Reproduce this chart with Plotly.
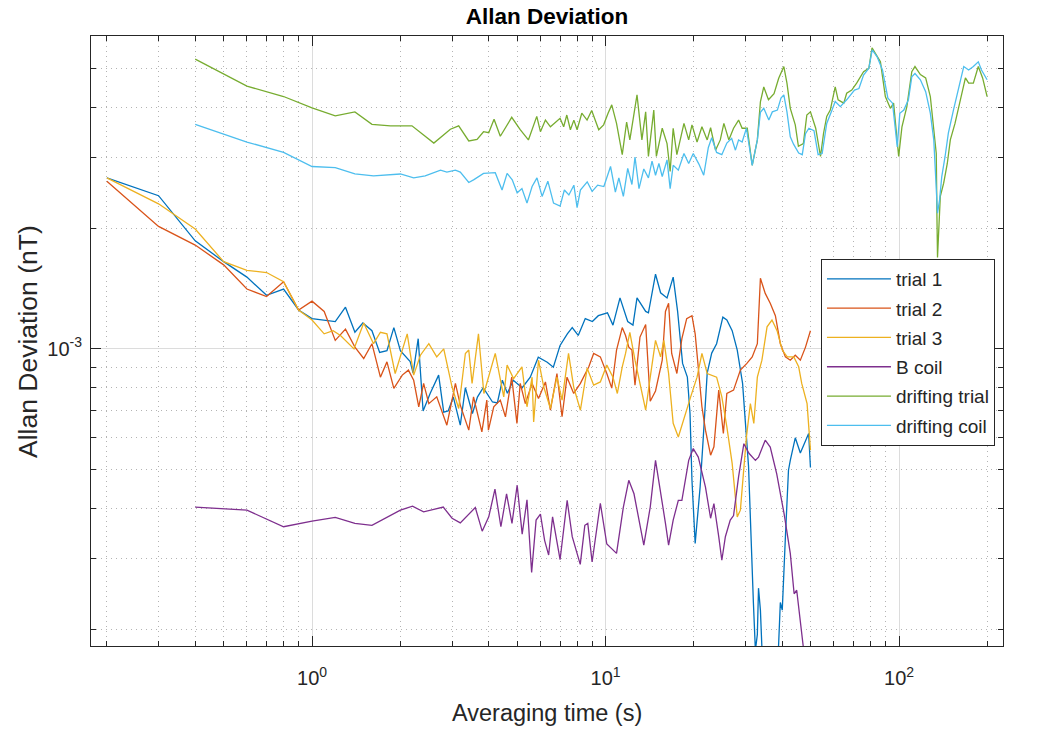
import numpy as np
import plotly.graph_objects as go

# ---- data (averaging time tau in s, Allan deviation in units of 1e-3 nT) ----
SCALE = 1e-3

tau_trial1 = [0.2,0.3,0.4,0.5,0.6,0.7,0.8,0.9,1.0,1.2,1.3,1.4,1.49,1.6,1.7,1.8,1.9,2.0,2.16,2.21,2.30,2.39,2.53,2.70,2.81,2.91,3.03,3.20,3.33,3.52,3.66,3.83,4.12,4.28,4.45,4.63,4.85,5.2,5.54,5.9,6.33,6.64,7.0,7.41,7.7,8.07,8.53,9.02,9.45,10.15,10.6,11.2,11.9,12.4,12.8,13.7,14.0,14.8,15.4,16.2,17.0,17.6,18.3,19.0,19.4,19.7,20.2,21.0,21.5,22.2,23.0,23.9,25.1,25.9,27.0,28.1,29.3,29.95,30.7,31.9,32.4,32.9,33.2,33.7,34.2,36.4,38.8,39.4,40.0,41.0,42.0,42.6,44.3,46.1,48.0,49.2,49.9]
adev_trial1 = [2.67,2.41,1.86,1.65,1.51,1.36,1.41,1.25,1.19,1.17,1.27,1.10,1.16,1.11,0.98,0.99,1.13,0.99,0.93,0.87,1.06,0.70,0.776,0.86,0.695,0.70,0.758,0.645,0.80,0.69,0.758,0.80,0.737,0.733,0.835,0.775,0.835,0.80,0.85,0.953,0.926,0.90,1.02,1.09,1.13,1.08,1.19,1.17,1.21,1.23,1.146,1.34,1.17,1.146,1.34,1.24,1.23,1.535,1.38,1.34,1.51,1.24,0.92,0.85,0.69,0.47,0.327,0.452,0.592,0.87,0.976,1.03,1.2,1.18,1.11,0.993,0.82,0.664,0.51,0.232,0.177,0.194,0.253,0.223,0.17,0.15,0.177,0.233,0.223,0.34,0.498,0.527,0.6,0.55,0.592,0.615,0.506]

tau_trial2 = [0.2,0.3,0.4,0.5,0.6,0.7,0.8,0.9,1.0,1.1,1.2,1.3,1.40,1.50,1.60,1.71,1.80,1.90,2.03,2.13,2.22,2.31,2.40,2.50,2.66,2.88,3.08,3.20,3.42,3.55,3.79,3.94,3.99,4.16,4.38,4.56,4.79,4.99,5.12,5.33,5.62,5.91,6.24,6.49,6.83,7.11,7.39,7.79,8.21,8.77,9.11,9.6,10.1,10.5,10.9,11.4,11.7,12.0,12.3,12.6,13.1,13.7,14.2,14.8,15.6,16.0,16.4,16.8,17.5,18.2,18.9,19.7,20.2,20.8,21.3,21.9,22.8,23.4,24.3,25.2,25.9,27.3,28.8,30.3,31.6,32.9,33.7,35.0,36.4,37.9,39.4,41.0,42.6,44.3,46.1,48.0,49.9]
adev_trial2 = [2.62,2.02,1.815,1.62,1.41,1.35,1.47,1.25,1.315,1.24,1.05,1.12,1.01,0.946,1.03,0.85,0.928,0.797,0.86,0.885,0.835,0.717,0.82,0.73,0.759,0.645,0.82,0.724,0.627,0.759,0.621,0.745,0.627,0.717,0.745,0.677,0.85,0.652,0.82,0.73,0.82,0.752,0.827,0.703,0.868,0.677,0.85,0.774,0.82,0.902,0.974,0.955,0.868,0.798,0.993,1.13,1.08,1.01,0.993,0.812,1.07,1.15,0.74,0.785,0.937,1.24,1.30,0.974,0.868,1.06,1.19,1.21,1.09,0.868,0.717,0.627,0.543,0.57,0.789,0.615,0.774,0.789,0.885,0.92,0.955,1.03,1.50,1.375,1.30,1.21,1.03,0.955,0.937,0.964,0.937,1.01,1.11]

tau_trial3 = [0.2,0.3,0.4,0.5,0.6,0.7,0.8,0.9,1.0,1.1,1.18,1.25,1.39,1.50,1.62,1.71,1.80,1.92,2.11,2.22,2.34,2.50,2.66,2.81,3.0,3.16,3.33,3.42,3.51,3.69,3.85,4.21,4.50,4.62,4.86,5.19,5.4,5.62,5.69,5.91,6.16,6.49,6.83,7.11,7.48,7.79,8.21,8.66,9.11,9.6,10.1,10.6,10.97,11.4,11.7,12.1,12.6,13.1,13.7,14.2,14.8,15.4,15.8,16.4,17.0,17.7,18.4,19.5,20.5,21.3,22.2,23.0,23.9,24.9,25.9,27.0,28.1,28.8,29.6,30.2,31.15,32.0,32.9,34.1,35.5,36.9,38.4,40.0,41.6,43.8,45.5,46.6,48.6,49.9]
adev_trial3 = [2.67,2.30,1.99,1.65,1.57,1.55,1.47,1.25,1.18,1.09,1.11,1.08,1.0,1.16,1.03,1.10,1.09,0.868,1.09,0.86,0.964,1.03,0.955,1.0,0.803,0.71,0.974,0.993,0.82,1.09,0.774,0.974,0.759,0.911,0.843,0.902,0.717,0.85,0.657,0.937,0.803,0.71,0.85,0.745,0.974,0.803,0.703,0.895,0.812,0.827,0.911,0.85,0.774,0.902,0.974,1.10,0.937,0.82,0.703,0.85,1.05,0.955,1.05,0.868,0.652,0.603,0.664,0.759,0.85,0.974,0.868,0.86,0.85,0.759,0.639,0.518,0.381,0.396,0.498,0.603,0.73,0.652,0.85,0.937,1.135,1.18,1.11,0.993,0.955,0.955,0.902,0.82,0.73,0.559]

tau_bcoil = [0.4,0.6,0.8,1.0,1.2,1.4,1.6,2.0,2.2,2.4,2.8,3.0,3.2,3.6,3.8,4.0,4.2,4.4,4.6,4.8,5.0,5.2,5.4,5.6,5.8,6.0,6.2,6.4,6.6,7.0,7.4,7.7,8.2,8.5,8.7,9.0,9.6,10.1,10.9,11.5,12.0,12.5,13.5,14.2,14.8,15.4,16.0,16.4,17.0,17.7,18.2,19.2,19.9,20.7,21.9,22.8,23.4,24.3,24.9,25.6,26.6,27.3,28.4,29.6,30.8,32.4,33.2,35.0,36.4,38.3,40.6,42.6,43.9,44.8,46.1,47.2,49.9]
adev_bcoil = [0.403,0.396,0.36,0.372,0.38,0.367,0.363,0.396,0.405,0.392,0.403,0.378,0.368,0.402,0.351,0.381,0.447,0.36,0.435,0.367,0.457,0.345,0.42,0.277,0.374,0.387,0.333,0.306,0.381,0.298,0.419,0.34,0.29,0.363,0.367,0.294,0.412,0.326,0.309,0.403,0.47,0.435,0.324,0.403,0.527,0.444,0.367,0.324,0.374,0.419,0.419,0.527,0.564,0.537,0.452,0.378,0.411,0.34,0.297,0.34,0.374,0.384,0.48,0.58,0.549,0.527,0.537,0.592,0.569,0.488,0.387,0.309,0.245,0.25,0.21,0.18,0.15]

tau_dtrial = [0.4,0.6,0.8,1.0,1.2,1.4,1.6,1.85,2.19,2.6,2.96,3.16,3.42,3.65,3.84,4.0,4.17,4.38,4.79,5.12,5.46,5.83,6.0,6.24,6.49,7.0,7.2,7.38,7.59,7.8,8.0,8.3,8.65,8.97,9.48,9.85,10.2,10.5,10.9,11.4,11.8,12.1,12.8,13.3,13.7,14.0,14.6,14.9,15.6,16.2,16.6,17.0,17.5,18.5,19.2,19.7,20.5,21.3,22.2,22.8,23.7,24.6,25.3,26.3,27.3,28.4,29.2,30.4,31.6,32.9,33.7,34.6,35.9,37.5,38.9,40.5,41.5,42.6,44.3,45.4,47.2,48.5,49.9,52.0,54.0,55.3,56.7,58.3,60.6,62.0,64.8,66.3,69.0,71.7,75.7,78.9,80.9,83.1,86.4,89.8,93.4,95.8,99.7,102.3,106.3,110.5,113.3,118.2,123.2,127.8,133.9,134.6,135.2,138.2,141.9,146,149.5,155.1,161.7,168.3,172.6,179.1,186.2,192.6,199.5]
adev_dtrial = [5.28,4.52,4.26,3.99,3.81,3.9,3.63,3.6,3.6,3.26,3.53,3.6,3.30,3.33,3.48,3.46,3.74,3.39,3.78,3.52,3.32,3.80,3.48,3.72,3.58,3.76,3.58,3.83,3.52,3.72,3.52,3.87,3.72,3.93,3.52,3.62,3.87,4.06,3.65,3.05,3.68,3.32,4.30,3.32,3.9,3.02,3.94,3.02,3.55,3.25,2.77,3.55,3.05,3.65,3.32,3.62,3.28,3.58,3.32,3.56,3.13,3.32,3.65,3.32,3.55,3.72,3.55,3.55,2.87,3.32,4.13,4.5,4.18,4.33,4.73,5.06,4.6,3.98,3.62,3.2,3.25,3.83,3.9,3.55,3.02,3.45,3.8,3.94,4.5,4.18,4.1,4.34,4.42,4.6,4.91,5.01,5.63,5.46,5.2,4.26,3.98,4.1,3.02,3.58,4.02,4.91,5.06,4.83,4.74,4.26,3.07,2.14,1.69,2.4,2.59,2.9,3.32,3.65,4.18,4.74,4.6,4.6,5.06,4.74,4.26]

tau_dcoil = [0.4,0.6,0.8,1.0,1.2,1.4,1.62,2.0,2.22,2.43,2.74,2.88,3.08,3.2,3.42,3.55,3.84,4.21,4.44,4.62,4.81,5.0,5.19,5.4,5.62,5.84,6.08,6.36,6.65,7.0,7.24,7.5,7.8,8.0,8.21,8.66,9.0,9.4,9.87,10.2,10.4,10.8,11.1,11.5,11.9,12.3,12.6,13.0,13.5,14.0,14.4,14.8,15.2,15.6,16.2,16.6,17.0,17.7,18.5,19.2,19.9,20.8,21.6,22.4,23.0,23.9,24.9,25.9,26.9,27.7,28.4,29.2,30.2,31.6,32.9,33.7,34.6,36.0,37.0,38.5,39.6,40.5,41.5,42.6,43.7,45.5,46.8,48.0,49.3,51.3,53.0,54.7,56.7,59.1,60.6,63.1,66.3,70.5,73.0,75.7,78.9,81,84.2,87.8,91.6,95.0,98.6,100.6,103.8,107.6,110.5,113.3,118.2,123.2,127.8,131.3,134,135.2,137.4,139.8,143.4,147.2,153.2,159.4,166.1,172.6,179.1,186.2,190.9,199.5]
adev_dcoil = [3.63,3.28,3.09,2.85,2.83,2.73,2.7,2.73,2.67,2.70,2.79,2.76,2.79,2.76,2.60,2.64,2.74,2.75,2.49,2.74,2.64,2.45,2.51,2.31,2.54,2.67,2.40,2.62,2.31,2.27,2.49,2.42,2.56,2.25,2.49,2.61,2.47,2.56,2.54,2.74,2.85,2.46,2.67,2.40,2.82,2.57,3.01,2.51,2.81,2.67,2.94,2.71,2.90,2.69,2.96,2.51,2.87,2.79,3.07,2.90,3.07,2.89,2.71,3.18,3.36,3.09,3.05,3.26,3.35,3.13,3.32,3.28,3.55,2.87,3.32,3.89,3.98,3.72,3.9,3.94,4.22,4.3,3.9,3.38,3.24,3.08,3.05,3.44,3.55,3.5,3.05,3.07,3.65,3.94,4.14,4.02,4.18,4.42,4.46,4.82,5.01,5.57,5.35,4.96,4.22,4.1,3.19,3.87,3.94,4.18,4.77,4.86,4.69,4.38,3.87,3.32,2.54,2.18,2.35,2.69,3.01,3.45,3.94,4.46,5.06,4.96,5.06,5.2,4.96,4.69]

series_names = ["trial 1", "trial 2", "trial 3", "B coil", "drifting trial", "drifting coil"]
series_colors = ["#0072BD", "#D95319", "#EDB120", "#7E2F8E", "#77AC30", "#4DBEEE"]

x_major = [1, 10, 100]
x_major_text = ["10<sup>0</sup>", "10<sup>1</sup>", "10<sup>2</sup>"]
y_major = [1e-3]
y_major_text = ["10<sup>-3</sup>"]

series = [
    (tau_trial1, adev_trial1), (tau_trial2, adev_trial2), (tau_trial3, adev_trial3),
    (tau_bcoil, adev_bcoil), (tau_dtrial, adev_dtrial), (tau_dcoil, adev_dcoil),
]
for t, a in series:
    assert len(t) == len(a), (len(t), len(a))

FONT = "Liberation Sans, Arial, Helvetica, sans-serif"
AX = "#262626"

fig = go.Figure()
for i, ((t, a), name, col) in enumerate(zip(series, series_names, series_colors)):
    fig.add_trace(go.Scatter(x=t, y=np.array(a) * SCALE, mode="lines", name=name,
                             legendgroup=f"g{i}",
                             line=dict(color=col, width=1.3)))

x_minor = [m * 10.0 ** e for e in (-1, 0, 1) for m in range(2, 10)] + [200]
y_minor = [m * 10.0 ** e for e in (-4, -3) for m in range(2, 10)]

common = dict(type="log", ticks="inside", ticklen=10, tickcolor=AX, tickwidth=1,
              showline=True, linecolor=AX, linewidth=1, mirror="ticks",
              showgrid=True, gridcolor="#dcdcdc", gridwidth=1, zeroline=False,
              tickmode="array",
              tickfont=dict(family=FONT, size=20, color=AX))

fig.update_xaxes(range=[np.log10(0.1766), np.log10(226)], tickvals=x_major, ticktext=x_major_text,
                 ticklabelstandoff=14,
                 minor=dict(tickmode="array", tickvals=x_minor, ticks="inside", ticklen=5,
                            tickcolor=AX, showgrid=True, gridcolor="#b4b4b4",
                            griddash="1px,4px", gridwidth=1),
                 **common)
fig.update_yaxes(range=[np.log10(1.815e-4), np.log10(6.03e-3)], tickvals=y_major, ticktext=y_major_text,
                 ticklabelstandoff=4,
                 minor=dict(tickmode="array", tickvals=y_minor, ticks="inside", ticklen=5,
                            tickcolor=AX, showgrid=True, gridcolor="#b4b4b4",
                            griddash="1px,4px", gridwidth=1),
                 **common)

# full-window figure; the page's default body margin is removed below
W, H = 1059, 731
ML, MR, MT, MB = 91, 56, 36, 85
PH = H - MT - MB

fig.update_layout(
    width=W, height=H,
    margin=dict(l=ML, r=MR, t=MT, b=MB),
    paper_bgcolor="white", plot_bgcolor="white",
    title=dict(text="<b>Allan Deviation</b>", x=0.5, xref="paper", xanchor="center",
               y=1 - 16.5 / H, yref="container", yanchor="middle",
               font=dict(family=FONT, size=22.5, color="black")),
    legend=dict(x=0.8004, y=0.6344, xanchor="left", yanchor="top",
                bgcolor="white", bordercolor=AX, borderwidth=1,
                itemwidth=64, tracegroupgap=1.6,
                font=dict(family=FONT, size=19, color=AX)),
    showlegend=True,
    annotations=[
        dict(text="Averaging time (s)", x=0.5, y=-(713 - 646) / PH, xref="paper", yref="paper",
             xanchor="center", yanchor="middle", showarrow=False,
             font=dict(family=FONT, size=23.5, color=AX)),
        dict(text="Allan Deviation (nT)", x=(28 - 91) / (W - ML - MR), y=(646 - 342) / PH,
             xref="paper", yref="paper", xanchor="center", yanchor="middle",
             textangle=-90, showarrow=False,
             font=dict(family=FONT, size=26.5, color=AX)),
    ],
)

fig.write_html("out.html", config={"displayModeBar": False},
               post_script="document.body.style.margin='0';document.body.style.overflow='hidden';")
